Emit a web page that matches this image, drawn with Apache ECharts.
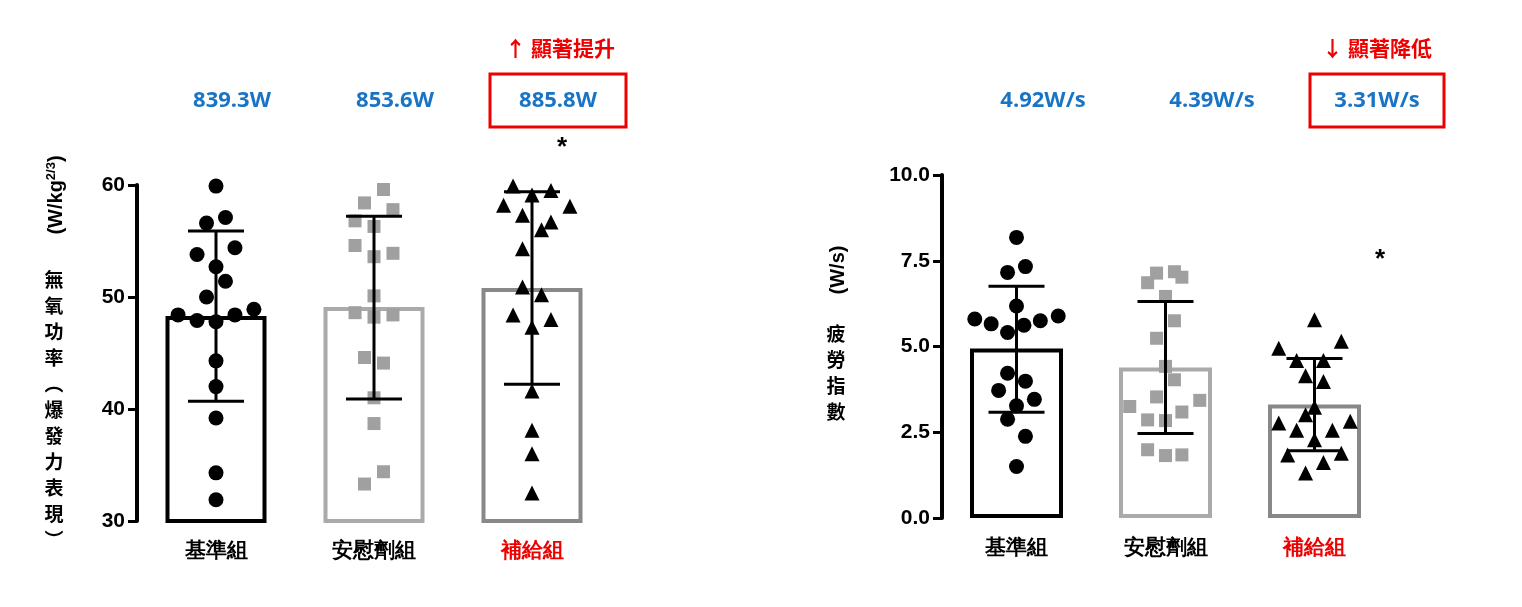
<!DOCTYPE html>
<html>
<head>
<meta charset="utf-8" />
<script src="https://cdn.jsdelivr.net/npm/echarts@6/dist/echarts.min.js"></script>
</head>
<body style="margin:0">
<div id="main" style="width:1522px;height:607px"></div>
<script>
const groups = ['基準組', '安慰劑組', '補給組'];

// 無氧功率
const powerMean = [48.3, 49.1, 50.8];
const powerSd = [[40.7, 55.9], [40.9, 57.2], [42.2, 59.4]];
const powerAvg = ['839.3W', '853.6W', '885.8W'];
const powerPts = [
  [59.9, 57.1, 56.6, 54.4, 53.8, 52.7, 51.4, 50.0, 48.9, 48.4, 48.4, 47.9, 47.8, 44.3, 42.0, 39.2, 34.3, 31.9],
  [59.6, 58.4, 57.8, 56.8, 56.3, 54.6, 53.9, 53.6, 50.1, 48.6, 48.4, 48.2, 44.6, 44.1, 41.0, 38.7, 34.4, 33.3],
  [59.9, 59.5, 59.1, 58.2, 58.1, 57.3, 56.7, 56.0, 54.3, 50.9, 50.2, 48.4, 48.0, 47.3, 41.6, 38.1, 36.0, 32.5]
];
const powerJit = [
  [0, .06, -.06, .12, -.12, 0, .06, -.06, .24, -.24, .12, -.12, 0, 0, 0, 0, 0, 0],
  [.06, -.06, .12, -.12, 0, -.12, .12, 0, 0, -.12, .12, 0, -.06, .06, 0, 0, .06, -.06],
  [-.12, .12, 0, -.18, .24, -.06, .12, .06, -.06, -.06, .06, -.12, .12, 0, 0, 0, 0, 0]
];

// 疲勞指數
const fatMean = [4.94, 4.39, 3.31];
const fatSd = [[3.08, 6.76], [2.46, 6.31], [1.96, 4.65]];
const fatAvg = ['4.92W/s', '4.39W/s', '3.31W/s'];
const fatPts = [
  [8.18, 7.33, 7.16, 6.18, 5.80, 5.66, 5.62, 5.89, 5.75, 5.41, 4.22, 3.99, 3.72, 3.46, 3.27, 2.88, 2.38, 1.50],
  [6.86, 7.14, 7.18, 7.02, 6.46, 5.75, 5.24, 4.42, 4.03, 3.53, 3.25, 3.43, 2.86, 2.84, 3.09, 1.99, 1.82, 1.84],
  [5.78, 5.15, 4.95, 4.59, 4.59, 4.15, 3.98, 3.23, 3.01, 2.77, 2.82, 2.56, 2.56, 2.28, 1.84, 1.89, 1.62, 1.31]
];
const fatJit = [
  [0, .06, -.06, 0, -.28, -.17, .05, .28, .16, -.06, -.06, .06, -.12, .12, 0, -.06, .06, 0],
  [-.12, -.06, .06, .11, 0, .06, -.06, 0, .06, -.06, -.24, .23, -.12, 0, .11, -.12, 0, .11],
  [0, .18, -.24, -.12, .06, -.06, .06, 0, -.06, -.24, .24, -.12, .12, 0, -.18, .18, .06, -.06]
];

const barColors = ['#000', '#aaa', '#888'];
const symbols = ['circle', 'rect', 'triangle'];
const ptColors = ['#000', '#a0a0a0', '#000'];

const myChart = echarts.init(document.getElementById('main'));

function panel(gi, mean, sd, pts, jit, barW) {
  const series = [];
  series.push({
    type: 'bar', xAxisIndex: gi * 2, yAxisIndex: gi, barWidth: barW - 4,
    data: mean.map((v, i) => ({ value: v, itemStyle: { color: '#fff', borderColor: barColors[i], borderWidth: 4 } })),
    z: 1
  });
  pts.forEach((arr, g) => {
    series.push({
      type: 'scatter', xAxisIndex: gi * 2 + 1, yAxisIndex: gi,
      symbol: symbols[g], symbolSize: g === 1 ? 13 : 15,
      itemStyle: { color: ptColors[g], opacity: 1 },
      data: arr.map((v, k) => [g + jit[g][k], v]), z: 3
    });
  });
  series.push({
    type: 'custom', xAxisIndex: gi * 2, yAxisIndex: gi, z: 4,
    data: sd.map((s, i) => [i, s[0], s[1], mean[i]]),
    renderItem: (params, api) => {
      const lo = api.coord([api.value(0), api.value(1)]);
      const hi = api.coord([api.value(0), api.value(2)]);
      const w = 28;
      const st = { stroke: '#000', lineWidth: 3 };
      return { type: 'group', children: [
        { type: 'line', shape: { x1: lo[0], y1: lo[1], x2: hi[0], y2: hi[1] }, style: st },
        { type: 'line', shape: { x1: lo[0] - w, y1: lo[1], x2: lo[0] + w, y2: lo[1] }, style: st },
        { type: 'line', shape: { x1: hi[0] - w, y1: hi[1], x2: hi[0] + w, y2: hi[1] }, style: st }
      ] };
    }
  });
  return series;
}

const catAxis = (gi) => ({
  type: 'category', gridIndex: gi, data: groups,
  axisLine: { show: false }, axisTick: { show: false },
  axisLabel: {
    margin: 20, fontSize: 21, fontWeight: 'bold', color: '#000',
    formatter: (v, i) => i === 2 ? '{r|' + v + '}' : v,
    rich: { r: { color: '#e00', fontSize: 21, fontWeight: 'bold' } }
  }
});
const hidAxis = (gi) => ({ type: 'value', gridIndex: gi, min: -0.5, max: 2.5, show: false });
const valAxis = (gi, min, max, interval, fmt) => ({
  type: 'value', gridIndex: gi, min, max, interval,
  axisLine: { show: true, onZero: false, lineStyle: { color: '#000', width: 4 } },
  axisTick: { show: true, length: 9, lineStyle: { color: '#000', width: 3 } },
  splitLine: { show: false },
  axisLabel: { fontSize: 21, fontWeight: 'bold', fontFamily: 'Arial', color: '#000', margin: 12, formatter: fmt }
});

const txt = (x, y, s, o) => ({ type: 'text', x, y, style: Object.assign({ text: s, fill: '#000', font: 'bold 21px "Noto Sans CJK TC"', align: 'center', verticalAlign: 'middle' }, o || {}) });
const blue = '#1a74c6';
const graphics = [];
[232, 395, 558].forEach((x, i) => graphics.push(txt(x, 101, powerAvg[i], { fill: blue, font: 'bold 22px "Open Sans"' })));
[1043, 1212, 1377].forEach((x, i) => graphics.push(txt(x, 101, fatAvg[i], { fill: blue, font: 'bold 22px "Open Sans"' })));
graphics.push(txt(560, 48, '↑ 顯著提升', { fill: '#e00', font: 'bold 21px "Noto Sans CJK TC"' }));
graphics.push(txt(1377, 48, '↓ 顯著降低', { fill: '#e00', font: 'bold 21px "Noto Sans CJK TC"' }));
graphics.push({ type: 'rect', shape: { x: 490, y: 74, width: 136, height: 53 }, style: { fill: 'none', stroke: '#e00', lineWidth: 3 } });
graphics.push({ type: 'rect', shape: { x: 1310, y: 74, width: 134, height: 53 }, style: { fill: 'none', stroke: '#e00', lineWidth: 3 } });
graphics.push(txt(562, 148, '*', { font: 'bold 26px Arial' }));
graphics.push(txt(1380, 260, '*', { font: 'bold 26px Arial' }));
// y axis names
graphics.push({ type: 'text', x: 56, y: 195, rotation: Math.PI / 2, style: {
  text: '(W/kg{s|2/3})', fill: '#000', font: 'bold 20px Arial', align: 'center', verticalAlign: 'middle',
  rich: { s: { font: 'bold 13px Arial', verticalAlign: 'top', padding: [0, 0, 10, 0] } } } });
graphics.push(txt(54, 410, '無\n氧\n功\n率\n︵\n爆\n發\n力\n表\n現\n︶', { font: 'bold 19px "Noto Sans CJK TC"', lineHeight: 26 }));
graphics.push({ type: 'text', x: 838, y: 270, rotation: Math.PI / 2, style: { text: '(W/s)', fill: '#000', font: 'bold 20px Arial', align: 'center', verticalAlign: 'middle' } });
graphics.push(txt(836, 373, '疲\n勞\n指\n數', { font: 'bold 19px "Noto Sans CJK TC"', lineHeight: 26 }));

const option = {
  animation: false,
  grid: [
    { left: 137, width: 474, top: 185, height: 336 },
    { left: 942, width: 447, top: 175, height: 343 }
  ],
  xAxis: [catAxis(0), hidAxis(0), catAxis(1), hidAxis(1)],
  yAxis: [valAxis(0, 30, 60, 10), valAxis(1, 0, 10, 2.5, v => v.toFixed(1))],
  series: panel(0, powerMean, powerSd, powerPts, powerJit, 105).concat(panel(1, fatMean, fatSd, fatPts, fatJit, 97)),
  graphic: graphics
};
myChart.setOption(option);
</script>
</body>
</html>
